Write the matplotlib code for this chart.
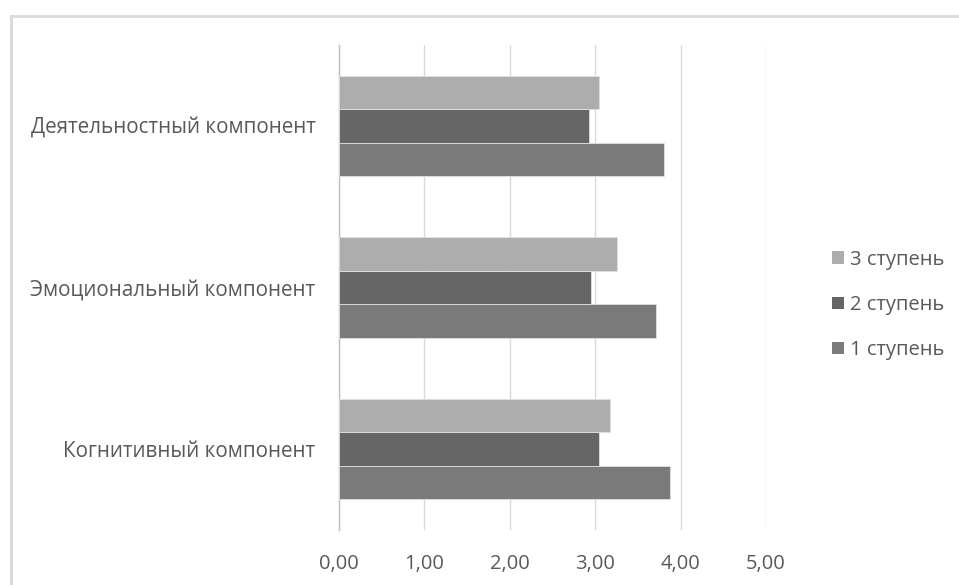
import numpy as np
import matplotlib.pyplot as plt
from matplotlib.patches import Patch
from matplotlib.lines import Line2D
from matplotlib.ticker import FuncFormatter

categories = ["Когнитивный компонент", "Эмоциональный компонент", "Деятельностный компонент"]
series_names = ["1 ступень", "2 ступень", "3 ступень"]
stage1 = [3.88, 3.71, 3.81]
stage2 = [3.04, 2.95, 2.93]
stage3 = [3.17, 3.26, 3.04]
colors = ["#7a7a7a", "#666666", "#adadad"]

plt.rcParams['font.family'] = ['Open Sans', 'DejaVu Sans']
text_col = "#595959"
fs = 14.5

fig = plt.figure(figsize=(9.59, 5.85), dpi=100)
W, H = 959, 585
ax = fig.add_axes([339 / W, 1 - 530 / H, (766 - 339) / W, (530 - 45) / H])

y = np.arange(len(categories))
bh = 0.207
for i, vals in enumerate([stage1, stage2, stage3]):
    ax.barh(y + (i - 1) * bh, vals, height=bh, color=colors[i],
            edgecolor="#e0e0e0", linewidth=0.6, zorder=3)

ax.set_xlim(0, 5)
ax.set_ylim(-0.5, 2.5)
ax.set_xticks(np.arange(0, 6, 1))
ax.xaxis.set_major_formatter(FuncFormatter(lambda v, p: f"{v:.2f}".replace(".", ",")))
ax.set_yticks(y)
ax.set_yticklabels(categories)
ax.tick_params(axis="both", length=0, colors=text_col, labelsize=fs)
ax.tick_params(axis="y", labelsize=14.9)
ax.tick_params(axis="x", pad=17)
ax.tick_params(axis="y", pad=17)
ax.grid(axis="x", color="#d9d9d9", linewidth=1, zorder=0)
for s in ["top", "right", "bottom"]:
    ax.spines[s].set_visible(False)
ax.spines["left"].set_color("#bfbfbf")
ax.spines["left"].set_linewidth(1)

handles = [Patch(facecolor=colors[i], label=series_names[i]) for i in [2, 1, 0]]
leg = fig.legend(handles=handles, loc="center left", bbox_to_anchor=(814 / W, 1 - 305 / H),
                 frameon=False, fontsize=fs, handlelength=0.6, handleheight=0.6,
                 handletextpad=0.3, labelspacing=1.25)
for t in leg.get_texts():
    t.set_color(text_col)

# outer chart border (only top and left are visible in the crop)
fig.add_artist(Line2D([10.5 / W, 1.0], [1 - 15.5 / H] * 2, transform=fig.transFigure,
                      color="#d9d9d9", linewidth=2))
fig.add_artist(Line2D([10.5 / W] * 2, [0, 1 - 15.5 / H], transform=fig.transFigure,
                      color="#d9d9d9", linewidth=2))

fig.savefig("out.png", dpi=100)
